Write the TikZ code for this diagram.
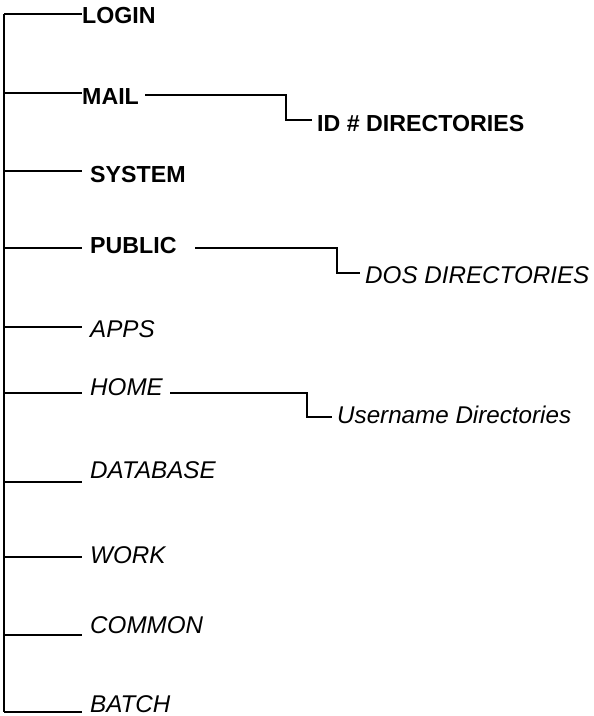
\documentclass[tikz,border=0pt]{standalone}
\usepackage{fontspec}
\setmainfont{Liberation Sans}
\begin{document}
\begin{tikzpicture}[x=1pt,y=-1pt,
  bdir/.style={anchor=base west,inner sep=0pt,font=\fontsize{23.2}{23.2}\selectfont\bfseries},
  idir/.style={anchor=base west,inner sep=0pt,font=\fontsize{24.2}{24.2}\selectfont\itshape},
  wire/.style={line width=1.6pt,line join=miter}]
\useasboundingbox (0,0) rectangle (594,716);
% labels
\node[bdir] (login) at (82,23) {LOGIN};
\node[bdir] (mail) at (82,104) {MAIL};
\node[bdir] (iddir) at (317,131) {ID \# DIRECTORIES};
\node[bdir] (system) at (90,182) {SYSTEM};
\node[bdir] (public) at (90,253) {PUBLIC};
\node[idir] (dosdir) at (365,283) {DOS DIRECTORIES};
\node[idir] (apps) at (90,337) {APPS};
\node[idir] (home) at (90,395) {HOME};
\node[idir] (userdir) at (337,423) {Username Directories};
\node[idir] (database) at (90,478) {DATABASE};
\node[idir] (work) at (90,563) {WORK};
\node[idir] (common) at (90,633) {COMMON};
\node[idir] (batch) at (90,712) {BATCH};
% trunk points
\coordinate (tlogin) at (4,14);
\coordinate (tmail) at (4,93);
\coordinate (tsystem) at (4,171);
\coordinate (tpublic) at (4,248);
\coordinate (tapps) at (4,327);
\coordinate (thome) at (4,393);
\coordinate (tdatabase) at (4,482);
\coordinate (twork) at (4,557);
\coordinate (tcommon) at (4,635);
\coordinate (tbatch) at (4,712);
\draw[wire] (tlogin) -- (tbatch);
\foreach \n in {login,mail,system,public,apps,home,database,work,common,batch}
  \draw[wire] (t\n) -- (82,0 |- t\n);
% side connectors
\coordinate (mailA) at (145,95);
\coordinate (mailB) at (286,95);
\draw[wire] (mailA) -- (mailB) |- (312,120);
\coordinate (pubA) at (195,248);
\coordinate (pubB) at (337,248);
\draw[wire] (pubA) -- (pubB) |- (360,273);
\coordinate (homeA) at (170,393);
\coordinate (homeB) at (307,393);
\draw[wire] (homeA) -- (homeB) |- (332,417);
\end{tikzpicture}
\end{document}
